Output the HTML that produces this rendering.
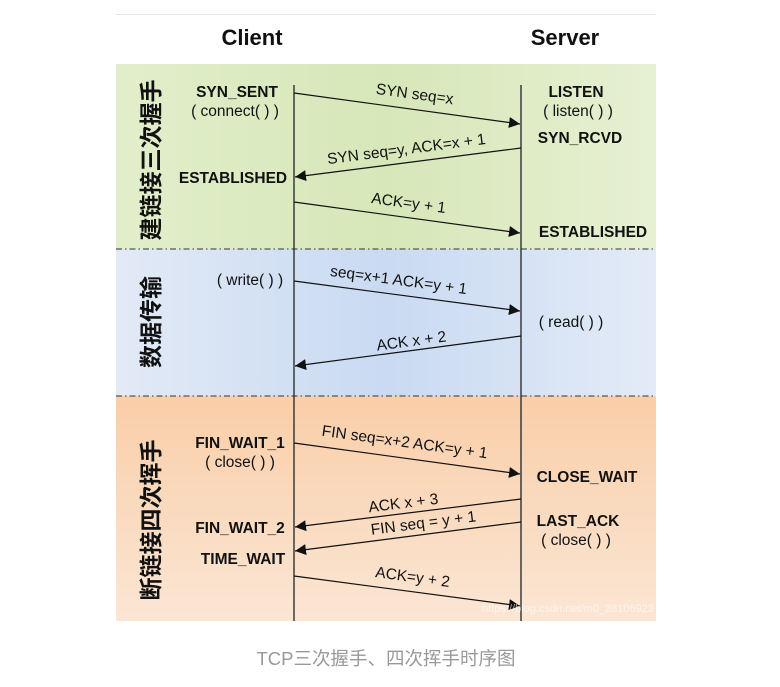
<!DOCTYPE html>
<html><head><meta charset="utf-8"><style>
body{margin:0;background:#fff;width:780px;height:687px;overflow:hidden}
svg{display:block}
text{font-family:"Liberation Sans","Noto Sans CJK SC",sans-serif}
.b{font-weight:bold;font-size:15.5px;fill:#111}
.n{font-size:15.5px;fill:#111}
.cj{font-family:"Noto Sans CJK SC","WenQuanYi Zen Hei",sans-serif;font-size:23px;font-weight:bold;fill:#111}
</style></head><body>
<svg width="780" height="687" viewBox="0 0 780 687">
<defs>
<linearGradient id="g" x1="0" x2="1"><stop offset="0" stop-color="#e2eecb"/><stop offset="0.5" stop-color="#d6e7b8"/><stop offset="1" stop-color="#e7f0d3"/></linearGradient>
<linearGradient id="bl" x1="0" x2="1"><stop offset="0" stop-color="#e2eaf6"/><stop offset="0.5" stop-color="#c9daf2"/><stop offset="1" stop-color="#e3ebf7"/></linearGradient>
<linearGradient id="og" x1="0" y1="0" x2="0" y2="1"><stop offset="0" stop-color="#f9cea8"/><stop offset="1" stop-color="#fbe6d4"/></linearGradient>
<marker id="a" viewBox="0 0 10 10" refX="10" refY="5" markerWidth="11" markerHeight="11" markerUnits="userSpaceOnUse" orient="auto"><path d="M0,0 L10,5 L0,10 z" fill="#111"/></marker>
</defs>
<line x1="116" y1="14.5" x2="656" y2="14.5" stroke="#e6e6e6"/>
<text x="252" y="45" class="b" style="font-size:22px" text-anchor="middle">Client</text>
<text x="565" y="45" class="b" style="font-size:22px" text-anchor="middle">Server</text>
<rect x="116" y="64" width="540" height="185" fill="url(#g)"/>
<rect x="116" y="249" width="540" height="147" fill="url(#bl)"/>
<rect x="116" y="396" width="540" height="225" fill="url(#og)"/>
<line x1="116" y1="249" x2="656" y2="249" stroke="#333" stroke-dasharray="6,3,1.5,3"/>
<line x1="116" y1="396" x2="656" y2="396" stroke="#333" stroke-dasharray="6,3,1.5,3"/>
<line x1="294" y1="85" x2="294" y2="621" stroke="#222" stroke-width="1.3"/>
<line x1="521" y1="85" x2="521" y2="621" stroke="#222" stroke-width="1.3"/>
<text class="cj" transform="translate(159,160) rotate(-90)" text-anchor="middle">建链接三次握手</text>
<text class="cj" transform="translate(159,322) rotate(-90)" text-anchor="middle">数据传输</text>
<text class="cj" transform="translate(159,520) rotate(-90)" text-anchor="middle">断链接四次挥手</text>
<g stroke="#111" stroke-width="1.2" marker-end="url(#a)">
<line x1="294" y1="93" x2="520" y2="124"/>
<line x1="521" y1="148" x2="295" y2="177"/>
<line x1="294" y1="202" x2="520" y2="233"/>
<line x1="294" y1="281" x2="520" y2="311"/>
<line x1="521" y1="336" x2="295" y2="366"/>
<line x1="294" y1="443" x2="520" y2="474"/>
<line x1="521" y1="499" x2="295" y2="527"/>
<line x1="521" y1="522" x2="295" y2="551"/>
<line x1="294" y1="576" x2="520" y2="606"/>
</g>
<text class="n" transform="translate(414,99) rotate(7.8)" text-anchor="middle">SYN seq=x</text>
<text class="n" transform="translate(407,154) rotate(-7.3)" text-anchor="middle">SYN seq=y, ACK=x + 1</text>
<text class="n" transform="translate(408,208) rotate(7.8)" text-anchor="middle">ACK=y + 1</text>
<text class="n" transform="translate(398,285) rotate(7.6)" text-anchor="middle">seq=x+1 ACK=y + 1</text>
<text class="n" transform="translate(412,346) rotate(-7.6)" text-anchor="middle">ACK x + 2</text>
<text class="n" transform="translate(404,447) rotate(7.8)" text-anchor="middle">FIN seq=x+2 ACK=y + 1</text>
<text class="n" transform="translate(404,508) rotate(-7.1)" text-anchor="middle">ACK x + 3</text>
<text class="n" transform="translate(424,528) rotate(-7.3)" text-anchor="middle">FIN seq = y + 1</text>
<text class="n" transform="translate(412,582) rotate(7.6)" text-anchor="middle">ACK=y + 2</text>
<text x="237" y="97" text-anchor="middle" class="b">SYN_SENT</text>
<text x="233" y="183" text-anchor="middle" class="b">ESTABLISHED</text>
<text x="240" y="448" text-anchor="middle" class="b">FIN_WAIT_1</text>
<text x="240" y="533" text-anchor="middle" class="b">FIN_WAIT_2</text>
<text x="243" y="564" text-anchor="middle" class="b">TIME_WAIT</text>
<text x="576" y="97" text-anchor="middle" class="b">LISTEN</text>
<text x="580" y="143" text-anchor="middle" class="b">SYN_RCVD</text>
<text x="593" y="237" text-anchor="middle" class="b">ESTABLISHED</text>
<text x="587" y="482" text-anchor="middle" class="b">CLOSE_WAIT</text>
<text x="578" y="526" text-anchor="middle" class="b">LAST_ACK</text>
<text x="235" y="116" text-anchor="middle" class="n">( connect( ) )</text>
<text x="578" y="116" text-anchor="middle" class="n">( listen( ) )</text>
<text x="250" y="285" text-anchor="middle" class="n">( write( ) )</text>
<text x="571" y="327" text-anchor="middle" class="n">( read( ) )</text>
<text x="240" y="467" text-anchor="middle" class="n">( close( ) )</text>
<text x="576" y="545" text-anchor="middle" class="n">( close( ) )</text>
<text x="568" y="612" text-anchor="middle" style="font-size:11px;fill:#fff;opacity:0.6">https://blog.csdn.net/m0_38106923</text>
<text x="386" y="665" text-anchor="middle" style="font-size:18.5px;fill:#999">TCP三次握手、四次挥手时序图</text>
</svg>
</body></html>
